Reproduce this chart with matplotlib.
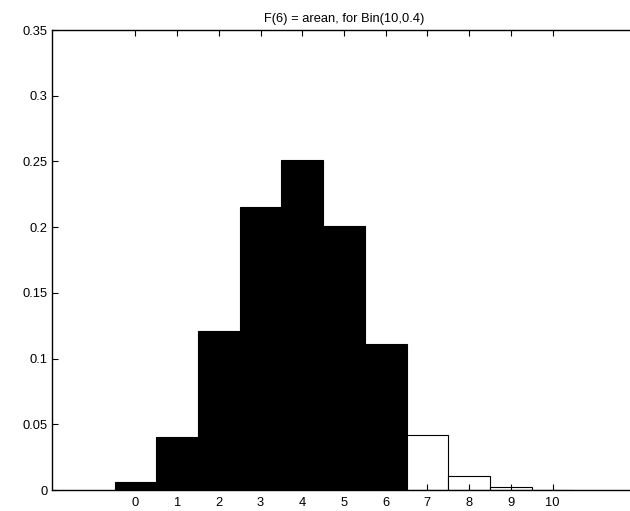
import matplotlib
matplotlib.use("Agg")
import matplotlib.pyplot as plt

plt.rcParams["font.family"] = ["Liberation Sans", "DejaVu Sans"]

# -------------------------
# data
# -------------------------
k_values = [0, 1, 2, 3, 4, 5, 6, 7, 8, 9, 10]
probs = [0.006, 0.040, 0.121, 0.215, 0.251, 0.201, 0.111, 0.042, 0.011, 0.002, 0.0001]
shaded_upto = 6  # F(6): bars 0..6 filled
title_text = "F(6) = arean, for Bin(10,0.4)"
y_ticks = [0, 0.05, 0.1, 0.15, 0.2, 0.25, 0.3, 0.35]
y_tick_labels = ["0", "0.05", "0.1", "0.15", "0.2", "0.25", "0.3", "0.35"]

fig = plt.figure(figsize=(6.3, 5.11), dpi=100)
# axes run a little past the right edge, like the cropped original
ax = fig.add_axes([52 / 630, 21 / 511, 584 / 630, 460 / 511])

colors = ["black" if k <= shaded_upto else "white" for k in k_values]
ax.bar(k_values, probs, width=1.0, color=colors, edgecolor="black", linewidth=0.8)

ax.set_xlim(-2, 12)
ax.set_ylim(0, 0.35)
ax.set_xticks(k_values)
ax.set_xticklabels([str(k) for k in k_values])
ax.set_yticks(y_ticks)
ax.set_yticklabels(y_tick_labels)

ax.tick_params(direction="in", length=4, width=0.8, labelsize=9.3,
               top=True, right=True)
ax.tick_params(axis="x", pad=5)
ax.tick_params(axis="y", pad=3)
for s in ax.spines.values():
    s.set_linewidth(1.0)

ax.set_title(title_text, fontsize=9.3, pad=6)

fig.savefig("out.png", dpi=100)
